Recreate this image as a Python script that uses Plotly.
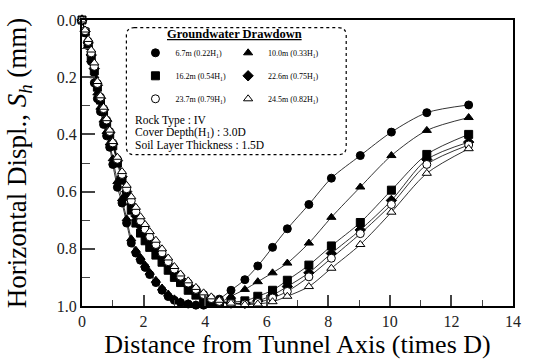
import plotly.graph_objects as go

SERIF = "Liberation Serif"

# distance from tunnel axis (times D)
x_dist = [0, 0.1, 0.2, 0.3, 0.4, 0.5, 0.6, 0.7, 0.8, 0.9,
          1.0, 1.15, 1.3, 1.45, 1.6, 1.75, 1.9, 2.05, 2.2, 2.4,
          2.6, 2.8, 3.0, 3.2, 3.45, 3.7, 3.95, 4.2, 4.46, 4.84,
          5.29, 5.71, 6.19, 6.67, 7.37, 8.1, 9.04, 10.05, 11.2, 12.56]

# normalized horizontal displacement for each groundwater drawdown
s_67 = [0, 0.045, 0.09, 0.145, 0.22, 0.275, 0.32, 0.365, 0.405, 0.445,
        0.505, 0.585, 0.64, 0.71, 0.78, 0.815, 0.84, 0.865, 0.89, 0.918,
        0.945, 0.967, 0.98, 0.988, 0.993, 0.997, 0.997, 0.99, 0.976, 0.945,
        0.908, 0.86, 0.795, 0.73, 0.645, 0.553, 0.474, 0.392, 0.324, 0.297]
s_100 = [0, 0.045, 0.09, 0.14, 0.195, 0.255, 0.305, 0.35, 0.39, 0.43,
         0.485, 0.565, 0.625, 0.695, 0.765, 0.805, 0.83, 0.857, 0.882, 0.91,
         0.937, 0.958, 0.975, 0.985, 0.992, 0.996, 0.998, 0.996, 0.99, 0.966,
         0.942, 0.915, 0.884, 0.85, 0.78, 0.69, 0.584, 0.474, 0.386, 0.341]
s_162 = [0, 0.042, 0.085, 0.13, 0.178, 0.235, 0.28, 0.32, 0.36, 0.4,
         0.44, 0.5, 0.56, 0.615, 0.665, 0.71, 0.745, 0.772, 0.795, 0.822,
         0.847, 0.875, 0.9, 0.918, 0.945, 0.962, 0.975, 0.985, 0.99, 0.986,
         0.982, 0.966, 0.945, 0.91, 0.857, 0.79, 0.708, 0.595, 0.47, 0.40]
s_226 = [0, 0.04, 0.08, 0.122, 0.17, 0.228, 0.274, 0.314, 0.354, 0.394,
         0.434, 0.492, 0.548, 0.6, 0.645, 0.685, 0.72, 0.748, 0.773, 0.8,
         0.828, 0.857, 0.882, 0.905, 0.93, 0.95, 0.965, 0.978, 0.987, 0.99,
         0.99, 0.982, 0.962, 0.932, 0.884, 0.816, 0.734, 0.631, 0.488, 0.427]
s_237 = [0, 0.038, 0.075, 0.115, 0.162, 0.222, 0.27, 0.31, 0.35, 0.39,
         0.43, 0.487, 0.54, 0.59, 0.632, 0.67, 0.703, 0.732, 0.758, 0.785,
         0.814, 0.845, 0.871, 0.896, 0.92, 0.942, 0.96, 0.974, 0.984, 0.99,
         0.993, 0.988, 0.972, 0.949, 0.898, 0.833, 0.747, 0.645, 0.505, 0.437]
s_245 = [0, 0.035, 0.068, 0.105, 0.15, 0.215, 0.265, 0.305, 0.345, 0.385,
         0.425, 0.48, 0.53, 0.578, 0.618, 0.655, 0.688, 0.715, 0.74, 0.77,
         0.8, 0.832, 0.862, 0.888, 0.912, 0.935, 0.954, 0.968, 0.98, 0.99,
         0.995, 0.993, 0.985, 0.966, 0.932, 0.868, 0.785, 0.672, 0.536, 0.45]

series = [
    ("6.7m (0.22H<sub>1</sub>)", s_67, "circle", "black", "legend"),
    ("10.0m (0.33H<sub>1</sub>)", s_100, "triangle-up", "black", "legend2"),
    ("16.2m (0.54H<sub>1</sub>)", s_162, "square", "black", "legend"),
    ("22.6m (0.75H<sub>1</sub>)", s_226, "diamond", "black", "legend2"),
    ("23.7m (0.79H<sub>1</sub>)", s_237, "circle", "white", "legend"),
    ("24.5m (0.82H<sub>1</sub>)", s_245, "triangle-up", "white", "legend2"),
]

info_lines = ["Rock Type : IV",
              "Cover Depth(H<sub>1</sub>) : 3.0D",
              "Soil Layer Thickness : 1.5D"]

fig = go.Figure()
# connecting lines (drawn beneath all markers)
for name, yv, sym, fill, lg in series:
    fig.add_trace(go.Scatter(
        x=x_dist, y=yv, mode="lines", showlegend=False, hoverinfo="skip",
        line=dict(color="black", width=0.8, shape="spline", smoothing=0.8),
        cliponaxis=False,
    ))
# markers (also feed the legend)
for name, yv, sym, fill, lg in series:
    fig.add_trace(go.Scatter(
        x=x_dist, y=yv, name=name, mode="markers",
        marker=dict(symbol=sym, size=8, color=fill,
                    line=dict(color="black", width=1)),
        legend=lg, legendgroup=name, cliponaxis=False,
    ))

fig.update_layout(
    width=533, height=362,
    margin=dict(l=82, r=14, t=14, b=55),
    paper_bgcolor="white", plot_bgcolor="white",
    font=dict(family=SERIF, color="black"),
    legend=dict(x=0.124, y=0.936, xanchor="left", yanchor="top",
                bgcolor="rgba(0,0,0,0)", borderwidth=0,
                font=dict(family=SERIF, size=8), tracegroupgap=4),
    legend2=dict(x=0.339, y=0.936, xanchor="left", yanchor="top",
                 bgcolor="rgba(0,0,0,0)", borderwidth=0,
                 font=dict(family=SERIF, size=8), tracegroupgap=4),
    xaxis=dict(range=[0, 14], tickvals=[0, 2, 4, 6, 8, 10, 12, 14],
               ticks="inside", ticklen=11, tickwidth=1.5,
               minor=dict(ticks="inside", ticklen=6, dtick=1, tickwidth=1.2),
               showline=True, linewidth=2, linecolor="black", mirror=True,
               showgrid=False, zeroline=False,
               tickfont=dict(family=SERIF, size=16, color="#222"),
               title=dict(text="Distance from Tunnel Axis (times D)",
                          font=dict(family=SERIF, size=26), standoff=2)),
    yaxis=dict(range=[1.0, 0.0], tickvals=[0, 0.2, 0.4, 0.6, 0.8, 1.0],
               tickformat=".1f",
               ticks="inside", ticklen=13, tickwidth=1.5,
               minor=dict(ticks="inside", ticklen=8, dtick=0.1, tickwidth=1.2),
               showline=True, linewidth=2, linecolor="black", mirror=True,
               showgrid=False, zeroline=False,
               tickfont=dict(family=SERIF, size=16, color="#222"),
               title=dict(text="Horizontal Displ., <i>S<sub>h</sub></i> (mm)",
                          font=dict(family=SERIF, size=27), standoff=22)),
)

# rounded legend frame
x0, x1 = 0.103, 0.613
y0, y1 = 0.529, 0.973
rx, ry = 8 / 437, 8 / 293
path = (f"M {x0+rx},{y1} L {x1-rx},{y1} Q {x1},{y1} {x1},{y1-ry} "
        f"L {x1},{y0+ry} Q {x1},{y0} {x1-rx},{y0} L {x0+rx},{y0} "
        f"Q {x0},{y0} {x0},{y0+ry} L {x0},{y1-ry} Q {x0},{y1} {x0+rx},{y1} Z")
fig.add_shape(type="path", path=path, xref="paper", yref="paper",
              line=dict(color="black", width=1.2, dash="dot"),
              fillcolor="white", layer="below")

fig.add_annotation(text="<b><u>Groundwater Drawdown</u></b>",
                   x=0.3547, y=0.952, xref="paper", yref="paper",
                   xanchor="center", yanchor="middle", showarrow=False,
                   font=dict(family=SERIF, size=12.5))
for i, txt in enumerate(info_lines):
    fig.add_annotation(text=txt, x=0.119, y=0.6485 - i * 0.0444,
                       xref="paper", yref="paper",
                       xanchor="left", yanchor="middle", align="left",
                       showarrow=False, font=dict(family=SERIF, size=11.5))

fig.write_html("out.html")
